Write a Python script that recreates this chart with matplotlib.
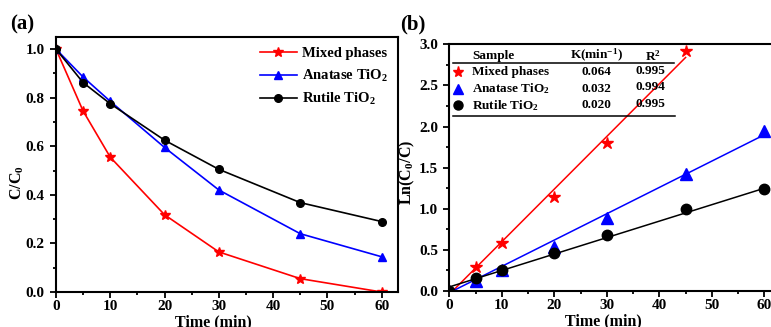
import matplotlib
matplotlib.use("Agg")
import matplotlib.pyplot as plt
from matplotlib.ticker import MultipleLocator, FormatStrFormatter
import numpy as np

plt.rcParams['font.family'] = ['Liberation Serif', 'DejaVu Serif']
plt.rcParams['font.weight'] = 'bold'
plt.rcParams['mathtext.fontset'] = 'custom'
plt.rcParams['mathtext.rm'] = 'Liberation Serif:bold'
plt.rcParams['mathtext.it'] = 'Liberation Serif:italic:bold'
plt.rcParams['mathtext.bf'] = 'Liberation Serif:bold'
plt.rcParams['mathtext.default'] = 'rm'

# irradiation time (min)
time = [0, 5, 10, 20, 30, 45, 60]

# C/C0
mixed_c = [1.0, 0.745, 0.555, 0.318, 0.165, 0.055, 0.0]
anatase_c = [1.0, 0.885, 0.785, 0.595, 0.42, 0.24, 0.145]
rutile_c = [1.0, 0.862, 0.775, 0.625, 0.505, 0.368, 0.29]

# ln(C0/C), mixed phases has no point at 60 min
time_mixed_ln = [0, 5, 10, 20, 30, 45]
mixed_ln = [0.0, 0.296, 0.59, 1.147, 1.796, 2.92]
anatase_ln = [0.0, 0.12, 0.255, 0.54, 0.884, 1.423, 1.946]
rutile_ln = [0.0, 0.154, 0.255, 0.466, 0.685, 0.997, 1.24]

# first-order fits
samples = ['Mixed phases', 'Anatase TiO$_2$', 'Rutile TiO$_2$']
k_values = [0.064, 0.032, 0.020]
intercepts = [-0.04, -0.02, 0.05]
r2_values = ['0.995', '0.994', '0.995']
fit_end = [45, 60, 60]

colors = ['#ff0000', '#0000ff', '#000000']
markers = ['*', '^', 'o']

fig = plt.figure(figsize=(7.71, 3.27), dpi=100)
ax1 = fig.add_axes([0.0726, 0.107, 0.4436, 0.78])
ax2 = fig.add_axes([0.5828, 0.110, 0.429, 0.7545])


def style_axes(ax):
    for s in ax.spines.values():
        s.set_linewidth(1.5)
    ax.tick_params(which='both', direction='out', top=False, right=False,
                   labelsize=11, width=1.3, pad=4)
    ax.tick_params(axis='x', which='both', pad=2)
    ax.tick_params(which='major', length=4)
    ax.tick_params(which='minor', length=2.5)
    ax.xaxis.set_major_locator(MultipleLocator(10))
    ax.xaxis.set_minor_locator(MultipleLocator(5))


# (a) concentration decay
ax1.plot(time, mixed_c, color=colors[0], marker='*', ms=7, lw=1.2, label=samples[0])
ax1.plot(time, anatase_c, color=colors[1], marker='^', ms=6, lw=1.2, label=samples[1])
ax1.plot(time, rutile_c, color=colors[2], marker='o', ms=5.5, lw=1.2, label=samples[2])
ax1.set_xlim(0, 63)
ax1.set_ylim(0, 1.05)
ax1.yaxis.set_major_locator(MultipleLocator(0.2))
ax1.yaxis.set_minor_locator(MultipleLocator(0.1))
ax1.yaxis.set_major_formatter(FormatStrFormatter('%.1f'))
style_axes(ax1)
ax1.set_xlabel('Time (min)', fontsize=11.5, fontweight='bold')
ax1.set_ylabel('C/C$_0$', fontsize=11.5, fontweight='bold')
ax1.xaxis.set_label_coords(0.46, -0.088)
ax1.yaxis.set_label_coords(-0.088, 0.43)
ax1.legend(loc='upper right', frameon=False, fontsize=10.5, handlelength=2.6,
           handletextpad=0.3, borderaxespad=0.3, labelspacing=0.5)
fig.text(0.013, 0.925, '(a)', fontsize=15, fontweight='bold', va='center')

# (b) first-order kinetics
series_ln = [(time_mixed_ln, mixed_ln), (time, anatase_ln), (time, rutile_ln)]
msizes = [9, 8, 7.5]
for (t, y), k, b, te, c, m, s in zip(series_ln, k_values, intercepts, fit_end,
                                      colors, markers, msizes):
    ax2.plot(t, y, ls='none', marker=m, color=c, ms=s)
    tt = np.array([0, te])
    ax2.plot(tt, k * tt + b, color=c, lw=1.1)
ax2.set_xlim(0, 63)
ax2.set_ylim(0, 3.0)
ax2.yaxis.set_major_locator(MultipleLocator(0.5))
ax2.yaxis.set_minor_locator(MultipleLocator(0.25))
ax2.yaxis.set_major_formatter(FormatStrFormatter('%.1f'))
style_axes(ax2)
ax2.set_xlabel('Time (min)', fontsize=11.5, fontweight='bold')
ax2.set_ylabel('Ln(C$_0$/C)', fontsize=11.5, fontweight='bold')
ax2.xaxis.set_label_coords(0.465, -0.09)
ax2.yaxis.set_label_coords(-0.098, 0.48)
fig.text(0.519, 0.925, '(b)', fontsize=15, fontweight='bold', va='center')

# rate constant table
tf = 9.5
ax2.text(4.3, 2.86, 'Sample', fontsize=tf, va='center')
ax2.text(28.1, 2.86, 'K(min$^{-1}$)', fontsize=tf, va='center', ha='center')
ax2.text(38.8, 2.86, 'R$^2$', fontsize=tf, va='center', ha='center')
ax2.plot([0.7, 42.8], [2.77, 2.77], color='black', lw=1.1)
ax2.plot([0.7, 43.0], [2.13, 2.13], color='black', lw=1.1)
row_y = [2.66, 2.46, 2.26]
for yy, name, k, r2, c, m, s in zip(row_y, samples, k_values, r2_values,
                                    colors, markers, msizes):
    ax2.plot([1.6], [yy], ls='none', marker=m, color=c, ms=s - 1)
    ax2.text(4.3, yy, name, fontsize=tf, va='center')
    ax2.text(28.1, yy, f'{k:.3f}', fontsize=tf, va='center', ha='center')
    ax2.text(38.3, yy + 0.02, r2, fontsize=tf, va='center', ha='center')

fig.savefig('out.png', dpi=100)
